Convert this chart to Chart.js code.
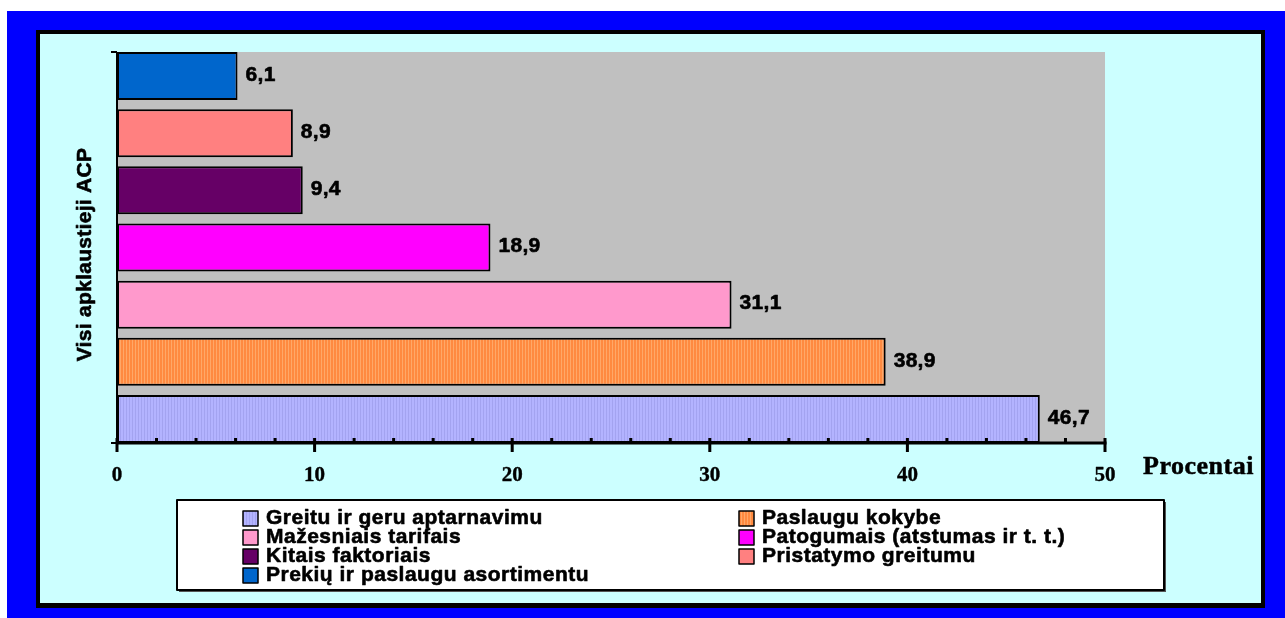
<!DOCTYPE html>
<html><head><meta charset="utf-8">
<script src="https://cdn.jsdelivr.net/npm/chart.js@4.4.1/dist/chart.umd.min.js"></script>
<style>
html,body{margin:0;padding:0;width:1285px;height:618px;overflow:hidden;background:#fff}
#blue{position:absolute;left:7px;top:11px;right:0;bottom:0;background:#0000FF}
#black{position:absolute;left:36px;top:30px;width:1229px;height:578px;background:#000}
#cyan{position:absolute;left:40px;top:34px;width:1221px;height:569px;background:#CCFFFF}
#c{position:absolute;left:0;top:0}
</style></head><body>
<div id="blue"></div><div id="black"></div><div id="cyan"></div>
<canvas id="c" width="1285" height="618"></canvas>
<script>
// ---- data ----
const categories = ["Visi apklaustieji ACP"];
const seriesNames = [
  "Greitu ir geru aptarnavimu",
  "Paslaugu kokybe",
  "Mažesniais tarifais",
  "Patogumais (atstumas ir t. t.)",
  "Kitais faktoriais",
  "Pristatymo greitumu",
  "Prekių ir paslaugu asortimentu"
];
const seriesValues = [46.7, 38.9, 31.1, 18.9, 9.4, 8.9, 6.1];
const xTickValues = [0, 10, 20, 30, 40, 50];
const xTickLabels = ["0", "10", "20", "30", "40", "50"];
const xMinorTickValues = [2, 4, 6, 8, 12, 14, 16, 18, 22, 24, 26, 28, 32, 34, 36, 38, 42, 44, 46, 48];
const xAxisTitle = "Procentai";

// ---- styles ----
const seriesColors = ["#B3B3FF", "#FF8A40", "#FF99CC", "#FF00FF", "#660066", "#FF8080", "#0066CC"];
const stripeColors = ["#A3A3F0", "#FFA868", null, null, null, null, null];

const canvas = document.getElementById('c');
const ctx0 = canvas.getContext('2d');
function makeFill(i) {
  if (!stripeColors[i]) return seriesColors[i];
  const t = document.createElement('canvas');
  t.width = 3; t.height = 4;
  const g = t.getContext('2d');
  g.fillStyle = seriesColors[i]; g.fillRect(0, 0, 3, 4);
  g.fillStyle = stripeColors[i]; g.fillRect(0, 0, 1, 4);
  return ctx0.createPattern(t, 'repeat');
}
const fills = seriesNames.map((_, i) => makeFill(i));

// Excel draws first series at the bottom: reverse for Chart.js (first dataset on top)
const datasets = [];
for (let i = seriesNames.length - 1; i >= 0; i--) {
  datasets.push({
    label: seriesNames[i],
    data: [seriesValues[i]],
    backgroundColor: fills[i],
    borderColor: '#000',
    borderWidth: 2,
    borderSkipped: false,
    categoryPercentage: 1.0235,
    barPercentage: 0.8396
  });
}

const SANS = '"Liberation Sans", Arial, sans-serif';
const SERIF = '"Liberation Serif", "Times New Roman", serif';

function setLS(ctx, v) { if ('letterSpacing' in ctx) ctx.letterSpacing = v; }
function heavyText(ctx, t, x, y, w) {
  ctx.lineWidth = w;
  ctx.strokeStyle = '#000';
  ctx.lineJoin = 'round';
  ctx.strokeText(t, x, y);
  ctx.fillText(t, x, y);
}

const decor = {
  id: 'decor',
  beforeDatasetsDraw(chart) {
    const {ctx, chartArea: a} = chart;
    ctx.save();
    ctx.fillStyle = '#C0C0C0';
    ctx.fillRect(a.left, a.top, a.right - a.left, a.bottom - a.top);
    ctx.restore();
  },
  afterDatasetsDraw(chart) {
    const {ctx, chartArea: a, scales} = chart;
    const xs = scales.x;
    ctx.save();
    ctx.strokeStyle = '#000';
    ctx.lineCap = 'butt';
    // y axis
    ctx.lineWidth = 2;
    ctx.beginPath();
    ctx.moveTo(a.left, a.top); ctx.lineTo(a.left, a.bottom + 1);
    ctx.moveTo(a.left - 6, a.top); ctx.lineTo(a.left, a.top);
    ctx.moveTo(a.left - 6, a.bottom); ctx.lineTo(a.left, a.bottom);
    ctx.stroke();
    // x axis
    ctx.lineWidth = 3;
    ctx.beginPath();
    ctx.moveTo(xs.getPixelForValue(xTickValues[0]) - 1, a.bottom);
    ctx.lineTo(xs.getPixelForValue(xTickValues[xTickValues.length - 1]) + 1.5, a.bottom);
    ctx.stroke();
    // major ticks
    ctx.beginPath();
    xTickValues.forEach(v => {
      const px = xs.getPixelForValue(v);
      ctx.moveTo(px, a.bottom - 5); ctx.lineTo(px, a.bottom + 9);
    });
    ctx.stroke();
    // minor ticks
    ctx.beginPath();
    xMinorTickValues.forEach(v => {
      const px = xs.getPixelForValue(v);
      ctx.moveTo(px, a.bottom - 5); ctx.lineTo(px, a.bottom);
    });
    ctx.stroke();
    // tick labels
    ctx.fillStyle = '#000';
    ctx.font = 'bold 21px ' + SERIF;
    ctx.textAlign = 'center';
    ctx.textBaseline = 'alphabetic';
    xTickValues.forEach((v, i) => {
      heavyText(ctx, xTickLabels[i], xs.getPixelForValue(v), a.bottom + 38, 0.4);
    });
    // x axis title
    ctx.font = 'bold 26px ' + SERIF;
    ctx.textAlign = 'left';
    setLS(ctx, '0.5px');
    heavyText(ctx, xAxisTitle, 1143, a.bottom + 31, 0.5);
    // category label (rotated)
    ctx.font = 'bold 21px ' + SANS;
    setLS(ctx, '0.3px');
    ctx.textAlign = 'center';
    ctx.textBaseline = 'middle';
    ctx.save();
    ctx.translate(85, (a.top + a.bottom) / 2 + 7);
    ctx.rotate(-Math.PI / 2);
    heavyText(ctx, categories[0], 0, 0, 0.6);
    ctx.restore();
    // data labels
    ctx.font = 'bold 21px ' + SANS;
    setLS(ctx, '0.3px');
    ctx.textAlign = 'left';
    ctx.textBaseline = 'middle';
    chart.data.datasets.forEach((ds, di) => {
      const el = chart.getDatasetMeta(di).data[0];
      const txt = String(ds.data[0]).replace('.', ',');
      heavyText(ctx, txt, el.x + 8, el.y - 1, 0.6);
    });
    // legend
    const lx = 177, ly = 500, lw = 987, lh = 90;
    setLS(ctx, '0px');
    ctx.fillStyle = '#555';
    ctx.fillRect(lx + 2, ly + lh, lw, 2);
    ctx.fillRect(lx + lw, ly + 2, 2, lh);
    ctx.fillStyle = '#fff';
    ctx.fillRect(lx, ly, lw, lh);
    ctx.lineWidth = 2;
    ctx.strokeStyle = '#000';
    ctx.strokeRect(lx, ly, lw, lh);
    const colX = [243, 739];
    const baseY = 524, pitch = 19;
    ctx.font = 'bold 21px ' + SANS;
    setLS(ctx, '0.5px');
    ctx.textAlign = 'left';
    ctx.textBaseline = 'alphabetic';
    seriesNames.forEach((name, i) => {
      const col = i % 2, row = Math.floor(i / 2);
      const x = colX[col], y = baseY + row * pitch;
      ctx.fillStyle = fills[i];
      ctx.fillRect(x, y - 13, 15, 15);
      ctx.lineWidth = 1.5;
      ctx.strokeStyle = '#000';
      ctx.strokeRect(x, y - 13, 15, 15);
      ctx.fillStyle = '#000';
      heavyText(ctx, name, x + 23, y, 0.6);
    });
    ctx.restore();
  }
};

new Chart(canvas, {
  type: 'bar',
  data: { labels: categories, datasets },
  options: {
    indexAxis: 'y',
    responsive: false,
    animation: false,
    layout: { padding: { left: 117, top: 52, right: 180, bottom: 175 } },
    scales: {
      x: { type: 'linear', min: xTickValues[0], max: xTickValues[xTickValues.length - 1], display: false },
      y: { type: 'category', display: false }
    },
    plugins: { legend: { display: false }, tooltip: { enabled: false } }
  },
  plugins: [decor]
});
</script>
</body></html>
